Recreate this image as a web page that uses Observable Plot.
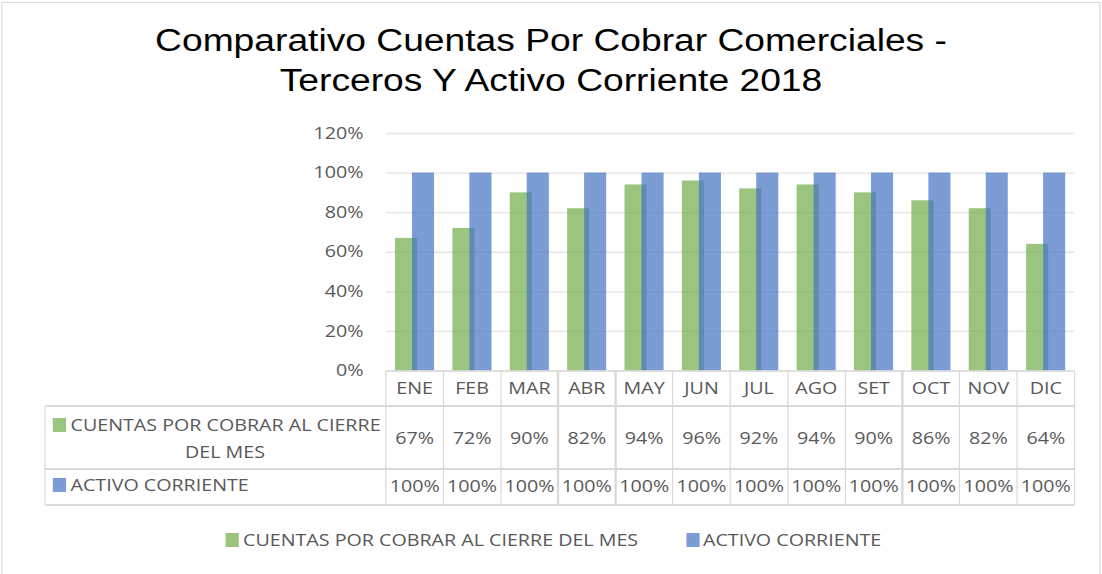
<!DOCTYPE html>
<html>
<head>
<meta charset="utf-8">
<script src="https://cdn.jsdelivr.net/npm/d3@7"></script>
<script src="https://cdn.jsdelivr.net/npm/@observablehq/plot@0.6"></script>
<style>
  html, body { margin: 0; padding: 0; background: #fff; overflow: hidden; }
  #wrap { position: relative; height: 574px; transform-origin: 0 0; }
  #wrap > * { position: absolute; }
  .lbl { font-family: 'Open Sans', sans-serif; font-size: 16.4px; color: #595959; white-space: nowrap; }
  .cell { text-align: center; height: 24px; line-height: 24px; }
  .ln { background: #d9d9d9; }
  .sq { width: 11.7px; height: 14px; }
  #title { font-family: 'Liberation Sans', Arial, sans-serif; font-size: 31px; line-height: 40px; color: #000; text-align: center; left: 0; top: 21px; }
</style>
</head>
<body>
<div id="wrap"></div>
<script>
// ---- data ----
const months = ["ENE", "FEB", "MAR", "ABR", "MAY", "JUN", "JUL", "AGO", "SET", "OCT", "NOV", "DIC"];
const cuentas = [0.67, 0.72, 0.90, 0.82, 0.94, 0.96, 0.92, 0.94, 0.90, 0.86, 0.82, 0.64];
const activo = [1.00, 1.00, 1.00, 1.00, 1.00, 1.00, 1.00, 1.00, 1.00, 1.00, 1.00, 1.00];
const seriesNames = ["CUENTAS POR COBRAR AL CIERRE DEL MES", "ACTIVO CORRIENTE"];
const seriesColors = ["#70AD47", "#4472C4"];
const yTicks = [0, 0.2, 0.4, 0.6, 0.8, 1.0, 1.2];
const titleLines = ["Comparativo Cuentas Por Cobrar Comerciales -", "Terceros Y Activo Corriente 2018"];

// ---- layout (reference is horizontally stretched) ----
const S = 1.2;
const W = 1102 / S;
const u = v => v / S;
const wrap = document.getElementById("wrap");
wrap.style.width = W + "px";
wrap.style.transform = `scaleX(${S})`;

const data = months.map((m, i) => ({month: m, cuentas: cuentas[i], activo: activo[i]}));
const fmt = d3.format(".0%");
const fill = c => d3.color(c).copy({opacity: 0.7}) + "";

function add(tag, cls, style, text) {
  const el = document.createElement(tag);
  if (cls) el.className = cls;
  Object.assign(el.style, style);
  if (text != null) el.textContent = text;
  wrap.appendChild(el);
  return el;
}

// outer border
add("div", null, {left: u(1.5) + "px", top: "1.5px", width: u(1098.5) + "px", height: "590px", border: "1px solid #d9d9d9", boxSizing: "border-box"});

// title
const t = add("div", null, {width: W + "px"});
t.id = "title";
t.innerHTML = titleLines.join("<br>");

const chart = Plot.plot({
  width: W,
  height: 574,
  marginLeft: u(386),
  marginRight: W - u(1074.5),
  marginTop: 133,
  marginBottom: 574 - 370.5,
  style: {fontFamily: "'Open Sans', sans-serif", fontSize: "16.4px", color: "#595959", background: "transparent", overflow: "visible"},
  x: {domain: months, padding: 0, round: false, axis: null},
  y: {domain: [0, 1.2], axis: null},
  marks: [
    Plot.ruleY(yTicks.filter(d => d > 0), {stroke: "#e4e4e4", strokeWidth: 1.3}),
    Plot.axisY({ticks: yTicks, tickFormat: fmt, tickSize: 0, tickPadding: u(23), label: null, fill: "#595959"}),
    Plot.barY(data, {x: "month", y: "cuentas", fill: fill(seriesColors[0]), insetLeft: u(9), insetRight: u(26.3)}),
    Plot.barY(data, {x: "month", y: "activo", fill: fill(seriesColors[1]), insetLeft: u(26), insetRight: u(9.3)}),
    Plot.ruleY([0], {stroke: "#d4d4d4", strokeWidth: 1.5})
  ]
});
chart.style.left = "0px";
chart.style.top = "0px";
wrap.appendChild(chart);

// ---- data table ----
const xs = chart.scale("x");
const bw = xs.bandwidth;
const xEnd = xs.apply(months[months.length - 1]) + bw;
const tblLeft = u(45);
const hLine = (xa, xb, y) => add("div", "ln", {left: xa + "px", top: (y - 0.75) + "px", width: (xb - xa) + "px", height: "1.5px"});
const vLine = (x, ya, yb) => add("div", "ln", {left: (x - 0.62) + "px", top: ya + "px", width: "1.25px", height: (yb - ya) + "px"});

const rowTop1 = 406, rowTop2 = 469, rowBot = 505;
hLine(tblLeft, xEnd, rowTop1);
hLine(tblLeft, xEnd, rowTop2);
hLine(tblLeft, xEnd, rowBot);
vLine(tblLeft, rowTop1, rowBot + 0.75);
months.forEach(m => vLine(xs.apply(m), 370.5, rowBot + 0.75));
vLine(xEnd, 370.5, rowBot + 0.75);

months.forEach((m, i) => {
  const left = xs.apply(m) + "px", width = bw + "px";
  add("div", "lbl cell", {left, width, top: (388 - 12) + "px"}, m);
  add("div", "lbl cell", {left, width, top: (438 - 12) + "px"}, fmt(cuentas[i]));
  add("div", "lbl cell", {left, width, top: (486 - 12) + "px"}, fmt(activo[i]));
});

// row labels
const words = seriesNames[0].split(" ");
add("div", "sq", {left: u(52.5) + "px", top: "418px", background: fill(seriesColors[0])});
add("div", "lbl cell", {left: u(70.5) + "px", top: (425 - 12) + "px", textAlign: "left"}, words.slice(0, 5).join(" "));
add("div", "lbl cell", {left: u(125) + "px", width: u(200) + "px", top: (452 - 12) + "px"}, words.slice(5).join(" "));
add("div", "sq", {left: u(52.5) + "px", top: "478px", background: fill(seriesColors[1])});
add("div", "lbl cell", {left: u(70.5) + "px", top: (485 - 12) + "px", textAlign: "left"}, seriesNames[1]);

// ---- legend ----
const legendX = [[225, 243], [686, 703]];
seriesNames.forEach((name, i) => {
  add("div", "sq", {left: u(legendX[i][0]) + "px", top: "533px", background: fill(seriesColors[i])});
  add("div", "lbl cell", {left: u(legendX[i][1]) + "px", top: (540 - 12) + "px", textAlign: "left"}, name);
});
</script>
</body>
</html>
